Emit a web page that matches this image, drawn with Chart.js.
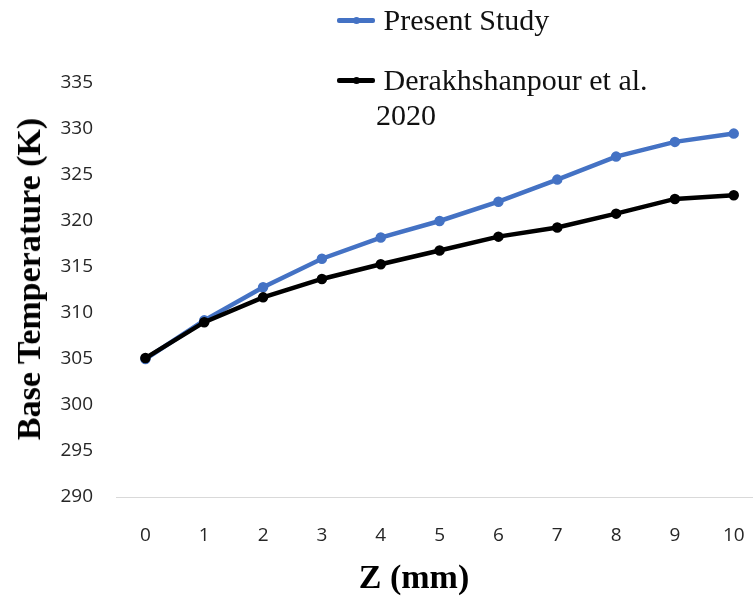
<!DOCTYPE html>
<html>
<head>
<meta charset="utf-8">
<script src="https://cdn.jsdelivr.net/npm/chart.js@4"></script>
<style>
  html, body { margin: 0; padding: 0; background: #fff; overflow: hidden; }
  #wrap { position: relative; width: 772px; height: 597px; }
  #legend { position: absolute; left: 0; top: 0; font-family: "Liberation Serif", "Times New Roman", serif; font-size: 30px; color: #111; }
  .item { position: absolute; white-space: nowrap; }
  .swatch { position: absolute; width: 38px; height: 5px; border-radius: 2px; }
  .swatch i { position: absolute; left: 16px; top: -1px; width: 7px; height: 7px; border-radius: 50%; }
  .axis-title { position: absolute; white-space: nowrap; font-family: "Liberation Serif", "Times New Roman", serif; font-weight: bold; font-size: 34px; line-height: 1; color: #000; }
</style>
</head>
<body>
<div id="wrap">
  <canvas id="chart" width="772" height="597"></canvas>
  <div id="legend"></div>
  <div class="axis-title" id="xTitle" style="left:414px; top:577px; transform:translate(-50%,-50%);"></div>
  <div class="axis-title" id="yTitle" style="left:29px; top:279px; transform:translate(-50%,-50%) rotate(-90deg);"></div>
</div>
<script>
// values (K)
const zLabels = ['0', '1', '2', '3', '4', '5', '6', '7', '8', '9', '10'];
const presentStudy = [305.0, 309.2, 312.8, 315.9, 318.2, 320.0, 322.1, 324.5, 327.0, 328.6, 329.5];
const derakhshanpour = [305.1, 309.0, 311.7, 313.7, 315.3, 316.8, 318.3, 319.3, 320.8, 322.4, 322.8];
const seriesNames = ['Present Study', 'Derakhshanpour et al. 2020'];
const seriesColors = ['#4472C4', '#000000'];
const xTitleText = 'Z (mm)';
const yTitleText = 'Base Temperature (K)';

const tickFont = { family: '"Open Sans", "Liberation Sans", sans-serif', size: 19 };

const ctx = document.getElementById('chart').getContext('2d');
const myChart = new Chart(ctx, {
  type: 'line',
  data: {
    labels: zLabels,
    datasets: [{
      label: seriesNames[0],
      data: presentStudy,
      borderColor: seriesColors[0],
      backgroundColor: seriesColors[0],
      borderWidth: 4.5,
      pointRadius: 3,
      order: 1   // drawn under the black line
    }, {
      label: seriesNames[1],
      data: derakhshanpour,
      borderColor: seriesColors[1],
      backgroundColor: seriesColors[1],
      borderWidth: 4.5,
      pointRadius: 3,
      order: 0
    }]
  },
  options: {
    responsive: false,
    animation: false,
    layout: { padding: { top: 83, right: 2, bottom: 0, left: 0 } },
    plugins: { legend: { display: false }, tooltip: { enabled: false } },
    scales: {
      x: {
        offset: true,
        grid: { display: false, drawTicks: false, offset: true },
        border: { display: true, color: '#d9d9d9', width: 1 },
        ticks: { color: '#262626', font: tickFont, padding: 27, maxRotation: 0 },
        afterFit: s => { s.height = 100; }
      },
      y: {
        min: 290,
        max: 335,
        grid: { display: false, drawTicks: false },
        border: { display: false },
        ticks: { stepSize: 5, color: '#262626', font: tickFont, padding: 23 },
        afterFit: s => { s.width = 116; }
      }
    }
  }
});

// axis titles sit off-centre in the original, so they are plain html
document.getElementById('xTitle').textContent = xTitleText;
document.getElementById('yTitle').textContent = yTitleText;

// legend as plain html, wraps the long name like the original
const legend = document.getElementById('legend');
const spots = [{ y: 20, width: 400 }, { y: 80, width: 280 }];
seriesNames.forEach((name, i) => {
  const sw = document.createElement('div');
  sw.className = 'swatch';
  sw.style.left = '337px';
  sw.style.top = (spots[i].y - 2.5) + 'px';
  sw.style.background = seriesColors[i];
  const dot = document.createElement('i');
  dot.style.background = seriesColors[i];
  sw.appendChild(dot);
  legend.appendChild(sw);

  const txt = document.createElement('div');
  txt.className = 'item';
  txt.style.left = '376px';
  txt.style.top = (spots[i].y - 18) + 'px';
  txt.style.width = spots[i].width + 'px';
  txt.style.whiteSpace = 'normal';
  txt.style.lineHeight = '35px';
  txt.textContent = '\u00a0' + name;
  legend.appendChild(txt);
});
</script>
</body>
</html>
